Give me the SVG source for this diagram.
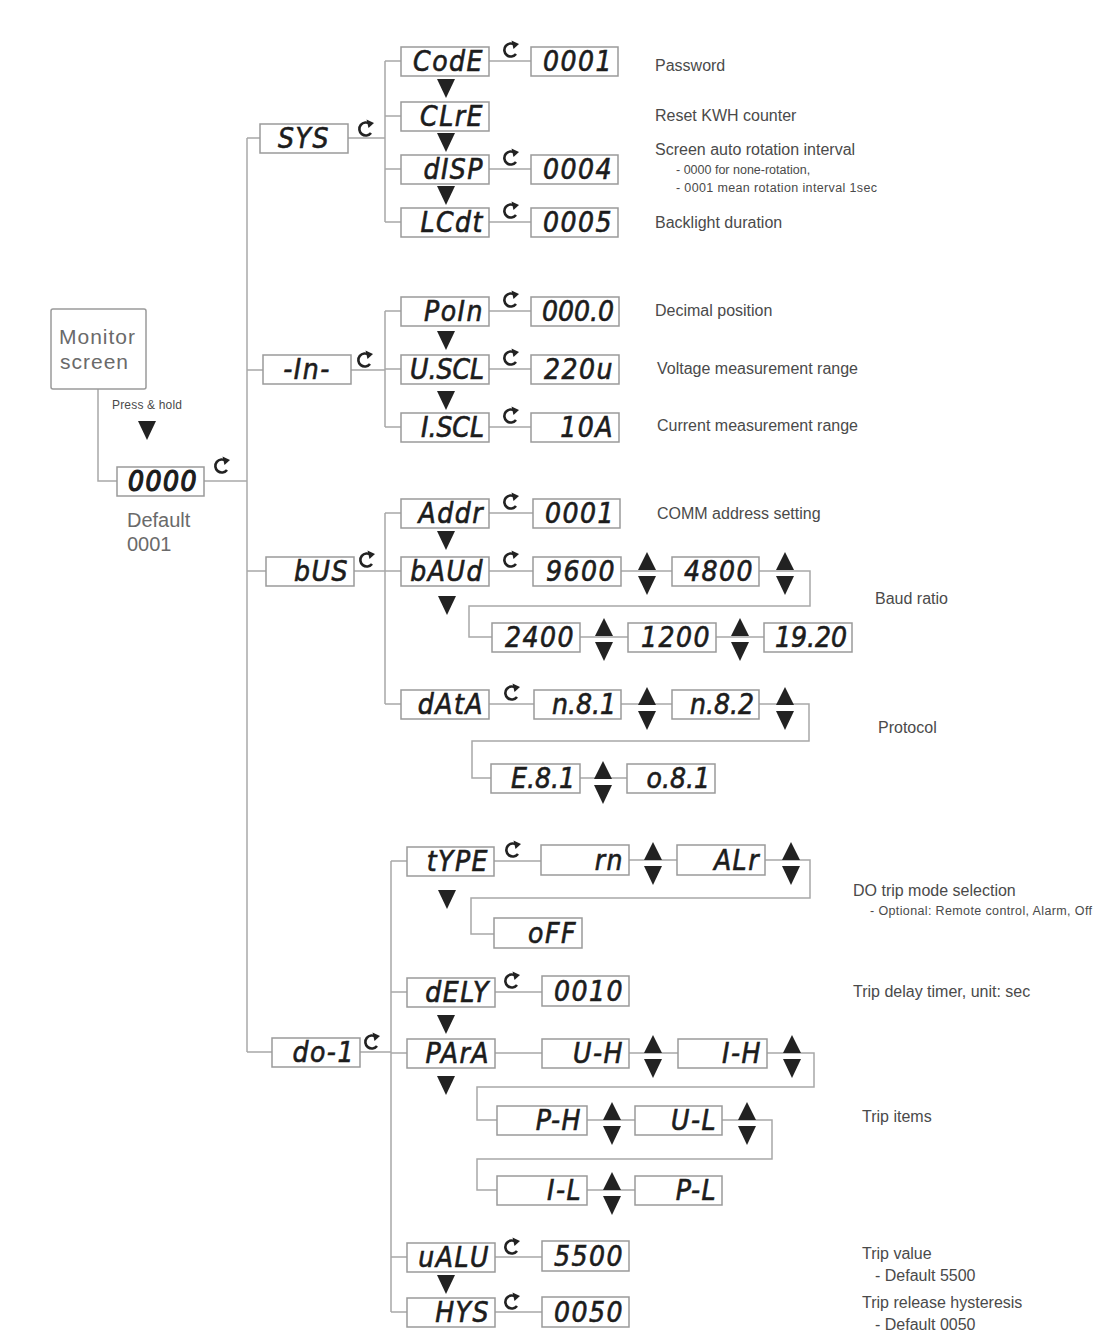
<svg xmlns="http://www.w3.org/2000/svg" xmlns:xlink="http://www.w3.org/1999/xlink" width="1098" height="1334" viewBox="0 0 1098 1334">
<style>
.bx{fill:#fff;stroke:#9a9a9a;stroke-width:1.5}
.mb{fill:#fff;stroke:#9a9a9a;stroke-width:1.5}
.ln{fill:none;stroke:#a8a8a8;stroke-width:1.5}
.sg{font-family:"DejaVu Sans Condensed","DejaVu Sans",sans-serif;font-weight:normal;font-style:italic;font-size:28px;fill:#1c1c1c;text-anchor:end;letter-spacing:1.5px;stroke:#1c1c1c;stroke-width:0.6}
.sgc{text-anchor:middle}
.tt{letter-spacing:0px}
.lb{font-family:"Liberation Sans",Arial,sans-serif;font-size:16px;fill:#4a4a4a}
.sm{font-size:12.5px}
.mon{font-family:"Liberation Sans",Arial,sans-serif;font-size:21px;fill:#6a6a6a;letter-spacing:1px}
.tri{fill:#222}
</style>
<defs>
<polygon id="dn" class="tri" points="-9,0 9,0 0,19"/>
<g id="ud"><polygon class="tri" points="-9,-2 9,-2 0,-20"/><polygon class="tri" points="-9,4 9,4 0,23"/></g>
<g id="rot"><path d="M4,-5 A6.5,6.5 0 1 0 5,4" fill="none" stroke="#222" stroke-width="2.6"/><polygon points="0.5,-9.5 8,-6 2.5,-1" fill="#222"/></g>
</defs>

<g id="connectors">
<path class="ln" d="M98,389 V481 H117"/>
<path class="ln" d="M204,481 H247"/>
<path class="ln" d="M247,138 V1052"/>
<path class="ln" d="M247,138 H260 M348,138 H385 M385,61 V222 M385,61 H401 M385,116 H401 M385,169 H401 M385,222 H401 M489,61 H531 M489,169 H531 M489,222 H531"/>
<path class="ln" d="M247,370 H263 M351,370 H385 M385,311 V427 M385,311 H401 M385,369 H401 M385,427 H401 M489,311 H531 M489,369 H531 M489,427 H531"/>
<path class="ln" d="M247,571 H266 M354,571 H385 M385,513 V704 M385,513 H401 M385,571 H401 M385,704 H401 M489,513 H533 M489,571 H533 M621,571 H672 M759,571 H810 V606 H469 V637 H492 M580,637 H628 M716,637 H764"/>
<path class="ln" d="M489,704 H534 M621,704 H672 M759,704 H809 V741 H472 V778 H491 M580,778 H627"/>
<path class="ln" d="M247,1052 H272 M360,1052 H391 M391,861 V1312 M391,861 H407 M391,992 H407 M391,1053 H407 M391,1257 H407 M391,1312 H407"/>
<path class="ln" d="M494,861 H541 M629,860 H677 M765,860 H810 V898 H471 V934 H494"/>
<path class="ln" d="M495,992 H542 M495,1053 H542 M629,1053 H678 M767,1053 H814 V1087 H477 V1120 H497 M587,1120 H635 M722,1120 H772 V1159 H477 V1190 H497 M587,1190 H635"/>
<path class="ln" d="M495,1257 H542 M495,1312 H542"/>
</g>

<g id="monitor"><rect class="mb" x="51" y="309" width="95" height="80" rx="2"/><text class="mon" x="59" y="344">Monitor</text><text class="mon" x="60" y="369">screen</text></g>
<g id="presshold"><text class="lb" x="112" y="409" style="font-size:12px" textLength="70">Press &amp; hold</text><use href="#dn" x="147" y="421"/></g>
<g id="n0000"><rect class="bx" x="117" y="467" width="87" height="29"/><text class="sg" x="198" y="491" style="stroke-width:1.2">0000</text><use href="#rot" x="222" y="466"/><text class="lb" x="127" y="527" style="font-size:20px;fill:#6a6a6a">Default</text><text class="lb" x="127" y="551" style="font-size:20px;fill:#6a6a6a">0001</text></g>

<g id="sys"><rect class="bx" x="260" y="124" width="88" height="29"/><text class="sg sgc" x="304" y="148">SYS</text><use href="#rot" x="366" y="129"/></g>
<g id="code"><rect class="bx" x="401" y="47" width="88" height="29"/><text class="sg" x="484" y="71">CodE</text><use href="#rot" x="511" y="50"/><rect class="bx" x="531" y="47" width="87" height="29"/><text class="sg" x="613" y="71">0001</text><use href="#dn" x="446" y="79"/><text class="lb" x="655" y="71">Password</text></g>
<g id="clre"><rect class="bx" x="401" y="102" width="88" height="29"/><text class="sg" x="484" y="126">CLrE</text><use href="#dn" x="446" y="133"/><text class="lb" x="655" y="121">Reset KWH counter</text></g>
<g id="disp"><rect class="bx" x="401" y="155" width="88" height="29"/><text class="sg" x="484" y="179">dISP</text><use href="#rot" x="511" y="158"/><rect class="bx" x="531" y="155" width="87" height="29"/><text class="sg" x="613" y="179">0004</text><use href="#dn" x="446" y="186"/><text class="lb" x="655" y="155">Screen auto rotation interval</text><text class="lb sm" x="676" y="174">- 0000 for none-rotation,</text><text class="lb sm" x="676" y="192" textLength="201">- 0001 mean rotation interval 1sec</text></g>
<g id="lcdt"><rect class="bx" x="401" y="208" width="88" height="29"/><text class="sg" x="484" y="232">LCdt</text><use href="#rot" x="511" y="211"/><rect class="bx" x="531" y="208" width="87" height="29"/><text class="sg" x="613" y="232">0005</text><text class="lb" x="655" y="228">Backlight duration</text></g>

<g id="in"><rect class="bx" x="263" y="355" width="88" height="29"/><text class="sg sgc" x="307" y="379">-In-</text><use href="#rot" x="365" y="360"/></g>
<g id="poin"><rect class="bx" x="401" y="297" width="88" height="29"/><text class="sg" x="484" y="321">PoIn</text><use href="#rot" x="511" y="300"/><rect class="bx" x="531" y="297" width="88" height="29"/><text class="sg tt" x="614" y="321">000.0</text><use href="#dn" x="446" y="331"/><text class="lb" x="655" y="316">Decimal position</text></g>
<g id="uscl"><rect class="bx" x="401" y="355" width="88" height="29"/><text class="sg tt" x="484" y="379">U.SCL</text><use href="#rot" x="511" y="358"/><rect class="bx" x="531" y="355" width="88" height="29"/><text class="sg" x="614" y="379">220u</text><use href="#dn" x="446" y="391"/><text class="lb" x="657" y="374">Voltage measurement range</text></g>
<g id="iscl"><rect class="bx" x="401" y="413" width="88" height="29"/><text class="sg tt" x="484" y="437">I.SCL</text><use href="#rot" x="511" y="416"/><rect class="bx" x="531" y="413" width="88" height="29"/><text class="sg" x="614" y="437">10A</text><text class="lb" x="657" y="431">Current measurement range</text></g>

<g id="bus"><rect class="bx" x="266" y="557" width="88" height="29"/><text class="sg" x="349" y="581">bUS</text><use href="#rot" x="367" y="560"/></g>
<g id="addr"><rect class="bx" x="401" y="499" width="88" height="29"/><text class="sg" x="484" y="523">Addr</text><use href="#rot" x="511" y="502"/><rect class="bx" x="533" y="499" width="87" height="29"/><text class="sg" x="615" y="523">0001</text><use href="#dn" x="446" y="531"/><text class="lb" x="657" y="519">COMM address setting</text></g>
<g id="baud"><rect class="bx" x="401" y="557" width="88" height="29"/><text class="sg" x="484" y="581">bAUd</text><use href="#rot" x="511" y="560"/><use href="#dn" x="447" y="596"/>
<rect class="bx" x="533" y="557" width="88" height="29"/><text class="sg" x="616" y="581">9600</text><use href="#ud" x="647" y="572"/>
<rect class="bx" x="672" y="557" width="87" height="29"/><text class="sg" x="754" y="581">4800</text><use href="#ud" x="785" y="572"/>
<rect class="bx" x="492" y="623" width="88" height="29"/><text class="sg" x="575" y="647">2400</text><use href="#ud" x="604" y="638"/>
<rect class="bx" x="628" y="623" width="88" height="29"/><text class="sg" x="711" y="647">1200</text><use href="#ud" x="740" y="638"/>
<rect class="bx" x="764" y="623" width="88" height="29"/><text class="sg tt" x="847" y="647">19.20</text>
<text class="lb" x="875" y="604">Baud ratio</text></g>
<g id="data"><rect class="bx" x="401" y="690" width="88" height="29"/><text class="sg" x="484" y="714">dAtA</text><use href="#rot" x="512" y="693"/>
<rect class="bx" x="534" y="690" width="87" height="29"/><text class="sg tt" x="616" y="714">n.8.1</text><use href="#ud" x="647" y="707"/>
<rect class="bx" x="672" y="690" width="87" height="29"/><text class="sg tt" x="754" y="714">n.8.2</text><use href="#ud" x="785" y="707"/>
<rect class="bx" x="491" y="764" width="89" height="29"/><text class="sg tt" x="575" y="788">E.8.1</text><use href="#ud" x="603" y="781"/>
<rect class="bx" x="627" y="764" width="88" height="29"/><text class="sg tt" x="710" y="788">o.8.1</text>
<text class="lb" x="878" y="733">Protocol</text></g>

<g id="do1"><rect class="bx" x="272" y="1038" width="88" height="29"/><text class="sg" x="355" y="1062">do-1</text><use href="#rot" x="372" y="1042"/></g>
<g id="type"><rect class="bx" x="407" y="847" width="87" height="29"/><text class="sg" x="489" y="871">tYPE</text><use href="#rot" x="513" y="850"/><use href="#dn" x="447" y="890"/>
<rect class="bx" x="541" y="845" width="88" height="30"/><text class="sg" x="624" y="870">rn</text><use href="#ud" x="653" y="862"/>
<rect class="bx" x="677" y="845" width="88" height="30"/><text class="sg" x="760" y="870">ALr</text><use href="#ud" x="791" y="862"/>
<rect class="bx" x="494" y="918" width="88" height="30"/><text class="sg" x="577" y="943">oFF</text>
<text class="lb" x="853" y="896">DO trip mode selection</text><text class="lb sm" x="870" y="915" textLength="222">- Optional: Remote control, Alarm, Off</text></g>
<g id="dely"><rect class="bx" x="407" y="978" width="88" height="29"/><text class="sg" x="490" y="1002">dELY</text><use href="#rot" x="512" y="981"/><rect class="bx" x="542" y="976" width="87" height="30"/><text class="sg" x="624" y="1001">0010</text><use href="#dn" x="446" y="1015"/><text class="lb" x="853" y="997">Trip delay timer, unit: sec</text></g>
<g id="para"><rect class="bx" x="407" y="1039" width="88" height="29"/><text class="sg" x="490" y="1063">PArA</text><use href="#dn" x="446" y="1076"/>
<rect class="bx" x="542" y="1039" width="87" height="29"/><text class="sg" x="624" y="1063">U-H</text><use href="#ud" x="653" y="1055"/>
<rect class="bx" x="678" y="1039" width="89" height="29"/><text class="sg" x="762" y="1063">I-H</text><use href="#ud" x="792" y="1055"/>
<rect class="bx" x="497" y="1106" width="90" height="29"/><text class="sg" x="582" y="1130">P-H</text><use href="#ud" x="612" y="1122"/>
<rect class="bx" x="635" y="1106" width="87" height="29"/><text class="sg" x="717" y="1130">U-L</text><use href="#ud" x="747" y="1122"/>
<rect class="bx" x="497" y="1176" width="90" height="29"/><text class="sg" x="582" y="1200">I-L</text><use href="#ud" x="612" y="1192"/>
<rect class="bx" x="635" y="1176" width="87" height="29"/><text class="sg" x="717" y="1200">P-L</text>
<text class="lb" x="862" y="1122">Trip items</text></g>
<g id="valu"><rect class="bx" x="407" y="1243" width="88" height="29"/><text class="sg" x="490" y="1267">uALU</text><use href="#rot" x="512" y="1247"/><rect class="bx" x="542" y="1241" width="87" height="30"/><text class="sg" x="624" y="1266">5500</text><use href="#dn" x="446" y="1275"/><text class="lb" x="862" y="1259">Trip value</text><text class="lb" x="875" y="1281">- Default 5500</text></g>
<g id="hys"><rect class="bx" x="407" y="1298" width="88" height="29"/><text class="sg" x="490" y="1322">HYS</text><use href="#rot" x="512" y="1302"/><rect class="bx" x="542" y="1297" width="87" height="30"/><text class="sg" x="624" y="1322">0050</text><text class="lb" x="862" y="1308">Trip release hysteresis</text><text class="lb" x="875" y="1330">- Default 0050</text></g>
</svg>
